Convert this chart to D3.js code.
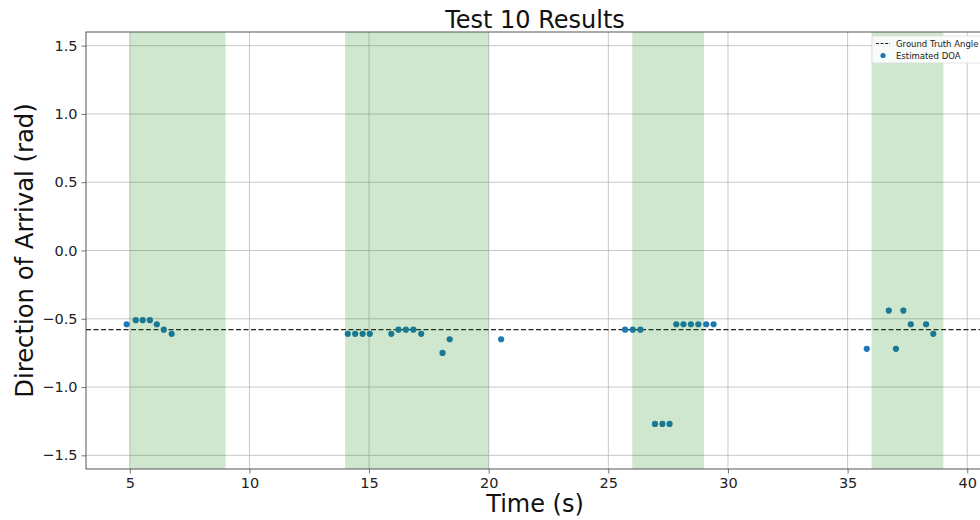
<!DOCTYPE html>
<html>
<head>
<meta charset="utf-8">
<script src="https://cdn.jsdelivr.net/npm/d3@7"></script>
<style>
  html, body { margin: 0; padding: 0; background: #fff; }
  svg { display: block; font-family: "DejaVu Sans", sans-serif; }
</style>
</head>
<body>
<svg id="chart" width="980" height="520"></svg>
<script>
// Estimated direction-of-arrival samples (time in s, angle in rad)
const times = [
  4.87, 5.25, 5.54, 5.84, 6.13, 6.42, 6.75,
  14.11, 14.42, 14.73, 15.03, 15.93, 16.23, 16.54, 16.85, 17.18, 18.07, 18.37, 20.52,
  25.70, 26.02, 26.34, 26.95, 27.26, 27.56, 27.84, 28.14, 28.45, 28.76, 29.09, 29.40,
  35.80, 36.72, 37.02, 37.33, 37.64, 38.28, 38.58
];
const doa = [
  -0.54, -0.51, -0.51, -0.51, -0.54, -0.58, -0.61,
  -0.61, -0.61, -0.61, -0.61, -0.61, -0.58, -0.58, -0.58, -0.61, -0.75, -0.65, -0.65,
  -0.58, -0.58, -0.58, -1.27, -1.27, -1.27, -0.54, -0.54, -0.54, -0.54, -0.54, -0.54,
  -0.72, -0.44, -0.72, -0.44, -0.54, -0.54, -0.61
];
// Intervals during which the source was active
const spanStart = [5, 14, 26, 36];
const spanEnd = [9, 20, 29, 39];
const groundTruth = -0.58;
const xTicks = [5, 10, 15, 20, 25, 30, 35, 40];
const yTicks = [-1.5, -1.0, -0.5, 0.0, 0.5, 1.0, 1.5];

const svg = d3.select("#chart");
const margin = { left: 86, top: 32, right: 984, bottom: 469 };

const x = d3.scaleLinear().domain([3.17, 40.7]).range([margin.left, margin.right]);
const y = d3.scaleLinear().domain([-1.6, 1.6]).range([margin.bottom, margin.top]);

const plotW = margin.right - margin.left;
const plotH = margin.bottom - margin.top;

svg.append("defs").append("clipPath").attr("id", "clip")
  .append("rect").attr("x", margin.left).attr("y", margin.top)
  .attr("width", plotW).attr("height", plotH);

// Grid lines
const grid = svg.append("g").attr("clip-path", "url(#clip)");
grid.selectAll("line.gx").data(xTicks).join("line")
  .attr("x1", d => x(d)).attr("x2", d => x(d))
  .attr("y1", margin.top).attr("y2", margin.bottom)
  .attr("stroke", "#b0b0b0").attr("stroke-opacity", 0.7).attr("stroke-width", 1);
grid.selectAll("line.gy").data(yTicks).join("line")
  .attr("x1", margin.left).attr("x2", margin.right)
  .attr("y1", d => y(d)).attr("y2", d => y(d))
  .attr("stroke", "#b0b0b0").attr("stroke-opacity", 0.7).attr("stroke-width", 1);

const plot = svg.append("g").attr("clip-path", "url(#clip)");

// Ground truth reference line
plot.append("line")
  .attr("x1", margin.left).attr("x2", margin.right)
  .attr("y1", y(groundTruth)).attr("y2", y(groundTruth))
  .attr("stroke", "#222").attr("stroke-width", 1.3)
  .attr("stroke-dasharray", "5,2.5");

// Estimated DOA points
plot.selectAll("circle.pt").data(times.map((t, i) => [t, doa[i]])).join("circle")
  .attr("cx", d => x(d[0])).attr("cy", d => y(d[1]))
  .attr("r", 3.1).attr("fill", "#1f77b4");

// Active intervals shaded on top
plot.selectAll("rect.span").data(spanStart.map((s, i) => [s, spanEnd[i]])).join("rect")
  .attr("x", d => x(d[0])).attr("width", d => x(d[1]) - x(d[0]))
  .attr("y", margin.top).attr("height", plotH)
  .attr("fill", "#008000").attr("fill-opacity", 0.19);

// Axes
const xAxis = d3.axisBottom(x).tickValues(xTicks).tickFormat(d3.format("d")).tickSize(4.5).tickPadding(4);
const yAxis = d3.axisLeft(y).tickValues(yTicks).tickFormat(d => d3.format(".1f")(d).replace("-", "\u2212")).tickSize(4.5).tickPadding(4);

const gx = svg.append("g").attr("transform", `translate(0,${margin.bottom})`).call(xAxis);
const gy = svg.append("g").attr("transform", `translate(${margin.left},0)`).call(yAxis);
[gx, gy].forEach(g => {
  g.select(".domain").remove();
  g.selectAll(".tick line").attr("stroke", "#666").attr("stroke-width", 0.9);
  g.selectAll(".tick text").attr("font-size", 14.5).attr("fill", "#222")
    .attr("font-family", "DejaVu Sans, sans-serif");
});

// Frame
svg.append("rect").attr("x", margin.left).attr("y", margin.top)
  .attr("width", plotW).attr("height", plotH)
  .attr("fill", "none").attr("stroke", "#444").attr("stroke-width", 0.9);

// Titles
svg.append("text").attr("x", (margin.left + margin.right) / 2).attr("y", 28)
  .attr("text-anchor", "middle").attr("font-size", 24).attr("fill", "#111")
  .text("Test 10 Results");
svg.append("text").attr("x", (margin.left + margin.right) / 2).attr("y", 512)
  .attr("text-anchor", "middle").attr("font-size", 24).attr("fill", "#111")
  .text("Time (s)");
svg.append("text")
  .attr("transform", `translate(33,${(margin.top + margin.bottom) / 2}) rotate(-90)`)
  .attr("text-anchor", "middle").attr("font-size", 24.3).attr("fill", "#111")
  .text("Direction of Arrival (rad)");

// Legend
const lg = svg.append("g").attr("transform", "translate(872,36)");
lg.append("rect").attr("x", 0).attr("y", 0).attr("width", 110).attr("height", 27)
  .attr("rx", 2).attr("fill", "#fff").attr("fill-opacity", 0.85)
  .attr("stroke", "#ddd").attr("stroke-width", 0.8);
lg.append("line").attr("x1", 4).attr("x2", 18).attr("y1", 7.5).attr("y2", 7.5)
  .attr("stroke", "#222").attr("stroke-width", 1.2).attr("stroke-dasharray", "3,1.5");
lg.append("text").attr("x", 24).attr("y", 10.5).attr("font-size", 8.5).attr("fill", "#222")
  .text("Ground Truth Angle");
lg.append("circle").attr("cx", 11).attr("cy", 19.5).attr("r", 2.6).attr("fill", "#1f77b4");
lg.append("text").attr("x", 24).attr("y", 22.5).attr("font-size", 8.5).attr("fill", "#222")
  .text("Estimated DOA");
</script>
</body>
</html>
